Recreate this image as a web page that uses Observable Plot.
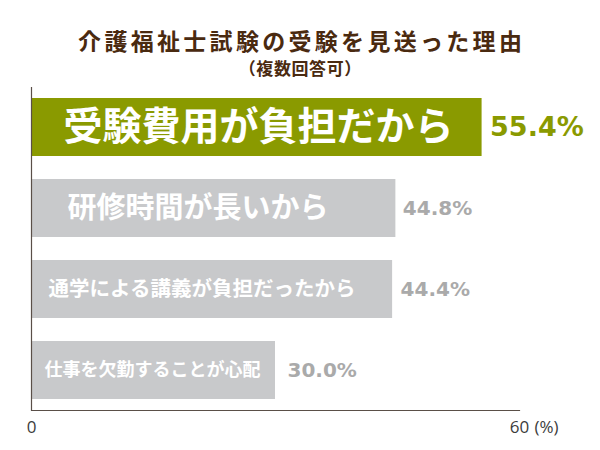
<!DOCTYPE html>
<html><head><meta charset="utf-8">
<script src="https://cdn.jsdelivr.net/npm/d3@7"></script>
<script src="https://cdn.jsdelivr.net/npm/@observablehq/plot@0.6"></script>
<style>
body{margin:0;background:#fff;}
#wrap{width:600px;}
#head{position:relative;height:80px;font-family:"Noto Sans CJK JP",sans-serif;font-weight:bold;color:#4a2a10;}
#title{position:absolute;left:0;top:29px;width:600px;text-align:center;font-size:23px;line-height:23px;height:23px;letter-spacing:3.3px;padding-left:3.3px;box-sizing:border-box;white-space:nowrap;}
#sub{position:absolute;left:0;top:59px;width:600px;text-align:center;font-size:17px;line-height:17px;height:17px;letter-spacing:0.6px;padding-left:0.6px;box-sizing:border-box;white-space:nowrap;}
</style></head>
<body><div id="wrap"><div id="head"><div id="title">介護福祉士試験の受験を見送った理由</div><div id="sub">（複数回答可）</div></div><div id="chart"></div></div>
<script>
const categories = ["受験費用が負担だから", "研修時間が長いから", "通学による講義が負担だったから", "仕事を欠勤することが心配"];
const values = [55.4, 44.8, 44.4, 30.0];
const xTicks = [0, 60];
const xUnit = "(%)";

const rows = categories.map((c, i) => ({category: c, value: values[i], rank: i}));

// styling (not data)
const barFill = ["#8a9a00", "#c8c9cb", "#c8c9cb", "#c8c9cb"];
const labelSize = [39, 29, 20.5, 18];
const labelDx = [32, 36, 17, 13];
const valueFill = ["#8a9a00", "#aaaaaa", "#aaaaaa", "#aaaaaa"];
const valueSize = [27, 20, 20, 20];
const valueDx = [8, 7, 8, 12];
const axisColor = "#5a4f48";

const cjk = "Noto Sans CJK JP, sans-serif";

const labelMarks = rows.map((r, i) => Plot.text([r], {
  x: 0, y: "category", text: "category", textAnchor: "start",
  dx: labelDx[i], fontSize: labelSize[i], fontWeight: "bold",
  fontFamily: cjk, fill: "#ffffff"
}));
const valueMarks = rows.map((r, i) => Plot.text([r], {
  x: "value", y: "category", text: d => d.value.toFixed(1) + "%", textAnchor: "start",
  dx: valueDx[i], fontSize: valueSize[i], fontWeight: "bold",
  fontFamily: "DejaVu Sans, sans-serif", fill: valueFill[i]
}));

const chart = Plot.plot({
  width: 600,
  height: 370,
  marginTop: 7,
  marginBottom: 40,
  marginLeft: 31,
  marginRight: 81,
  x: {domain: [0, 60], axis: null},
  y: {domain: categories, axis: null, paddingInner: 0.284, paddingOuter: 0.12},
  color: {type: "identity"},
  marks: [
    Plot.barX(rows, {x: "value", y: "category", fill: d => barFill[d.rank]}),
    Plot.ruleX([0], {stroke: axisColor, strokeWidth: 1.2}),
    Plot.frame({anchor: "bottom", stroke: axisColor, strokeWidth: 1.2}),
    ...labelMarks,
    ...valueMarks,
    Plot.axisX(xTicks, {label: null, tickSize: 0, tickPadding: 10, fontSize: 17, fontFamily: "Open Sans, sans-serif", fill: "#3c3c3c"}),
    Plot.text([60], {x: d => d, text: () => xUnit, frameAnchor: "bottom", textAnchor: "start", dx: 15, dy: 22, fontSize: 17, fontFamily: "Open Sans, sans-serif", fill: "#3c3c3c"})
  ]
});
document.getElementById("chart").appendChild(chart);
</script>
</body></html>
